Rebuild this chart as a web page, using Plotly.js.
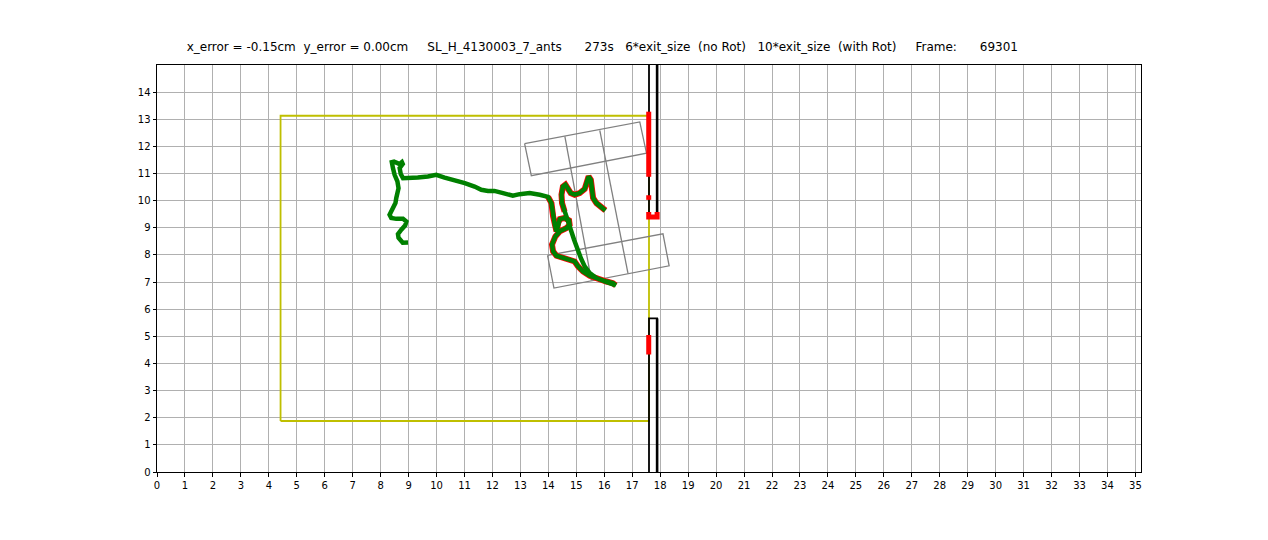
<!DOCTYPE html>
<html>
<head>
<meta charset="utf-8">
<script src="https://cdn.plot.ly/plotly-3.0.1.min.js"></script>
<style>html,body{margin:0;padding:0;background:#fff;}#plot{width:1268px;height:540px;}</style>
</head>
<body>
<div id="plot"></div>
<script>
// ---- Data (values in cm) ----
const titleText = "x_error = -0.15cm\u00a0\u00a0y_error = 0.00cm\u00a0\u00a0\u00a0\u00a0\u00a0SL_H_4130003_7_ants\u00a0\u00a0\u00a0\u00a0\u00a0\u00a0273s\u00a0\u00a0\u00a06*exit_size\u00a0\u00a0(no Rot)\u00a0\u00a0\u00a010*exit_size\u00a0\u00a0(with Rot)\u00a0\u00a0\u00a0\u00a0\u00a0Frame:\u00a0\u00a0\u00a0\u00a0\u00a0\u00a069301";

// arena boundary (yellow)
const arenaX = [4.42, 17.60, 17.60, 4.42, 4.42];
const arenaY = [1.88, 1.88, 13.13, 13.13, 1.88];

// exits (black boxes): left edge, bottom/top, right edge
const exitUpperX = [17.60, 17.60, 17.89, 17.89];
const exitUpperY = [15.5, 9.37, 9.37, 15.5];
const exitLowerX = [17.60, 17.60, 17.89, 17.89];
const exitLowerY = [-0.5, 5.66, 5.66, -0.5];

// rotated object outline (gray): segments separated by null
const objX = [13.15, 17.27, 17.51, 13.39, 13.15, null,
              13.97, 18.10, 18.32, 14.20, 13.97, null,
              14.59, 15.54, null,
              15.84, 16.85];
const objY = [12.10, 12.90, 11.75, 10.92, 12.10, null,
              7.98, 8.78, 7.60, 6.78, 7.98, null,
              12.37, 7.06, null,
              12.59, 7.31];

// red positions at the exits
const exitRedX = [17.59, 17.59, null, 17.59, 17.59, null, 17.59, 17.59, 17.89, 17.89, null, 17.59, 17.59];
const exitRedY = [13.28, 10.88, null, 10.20, 10.03, null, 9.58, 9.40, 9.40, 9.58, null, 5.05, 4.33];

// ant trajectory
const trajX = [8.98, 8.79, 8.64, 8.62, 8.74, 8.88, 8.92, 8.80, 8.56, 8.38,
               8.32, 8.40, 8.50, 8.53, 8.56, 8.62, 8.64, 8.60, 8.50, 8.44,
               8.40, 8.48, 8.60, 8.68, 8.76, 8.79, 8.68, 8.72, 8.80, 8.98,
               9.33, 9.69, 9.99, 10.29, 10.65, 11.01, 11.36, 11.60, 11.84, 12.07,
               12.38, 12.56, 12.73, 12.97, 13.33, 13.69, 13.99, 14.11, 14.17, 14.23,
               14.29, 14.35, 14.41, 14.58, 14.74, 14.76, 14.65, 14.41, 14.25, 14.13,
               14.17, 14.29, 14.52, 14.76, 14.94, 15.06, 15.24, 15.48, 15.78, 16.08,
               16.31, 16.41, 16.02, 15.72, 15.48, 15.30, 15.16, 15.04, 14.92, 14.82,
               14.76, 14.70, 14.58, 14.49, 14.47, 14.52, 14.61, 14.70, 14.80, 14.94,
               15.12, 15.30, 15.40, 15.44, 15.52, 15.54, 15.60, 15.72, 15.90, 16.04];
const trajY = [8.46, 8.45, 8.63, 8.77, 8.93, 9.09, 9.23, 9.33, 9.33, 9.36,
               9.48, 9.63, 9.79, 9.91, 10.10, 10.28, 10.46, 10.71, 10.95, 11.20,
               11.42, 11.44, 11.39, 11.35, 11.42, 11.35, 11.20, 10.98, 10.83, 10.83,
               10.85, 10.89, 10.95, 10.85, 10.77, 10.65, 10.52, 10.40, 10.36, 10.36,
               10.28, 10.22, 10.18, 10.24, 10.28, 10.22, 10.14, 9.91, 9.42, 9.11,
               8.87, 9.17, 9.32, 9.36, 9.27, 9.11, 8.99, 8.87, 8.68, 8.38,
               8.13, 7.97, 7.89, 7.85, 7.76, 7.58, 7.39, 7.23, 7.11, 7.02,
               6.96, 6.88, 7.02, 7.15, 7.33, 7.58, 7.89, 8.19, 8.56, 8.87,
               9.05, 9.30, 9.60, 9.91, 10.22, 10.52, 10.59, 10.46, 10.28, 10.22,
               10.28, 10.43, 10.71, 10.89, 10.77, 10.46, 10.10, 9.91, 9.76, 9.64];
// 1 = point flagged red (drawn under the green path)
const trajRed = [0,0,0,0,0,0,0,0,0,0, 0,0,0,0,0,0,0,0,0,0,
                 0,0,0,0,0,0,0,0,0,0, 0,0,0,0,0,0,0,0,0,0,
                 0,0,0,0,0,0,1,1,1,1, 1,1,1,1,1,1,1,1,1,1,
                 1,1,1,1,1,1,1,1,1,1, 1,1,0,0,0,0,0,0,0,0,
                 0,0,1,1,1,1,1,1,1,1, 1,1,1,1,1,1,1,1,1,1];

const xTicks = Array.from({length: 36}, (_, i) => i);
const yTicks = Array.from({length: 15}, (_, i) => i);

// ---- Build traces ----
const redX = trajX.map((v, i) => trajRed[i] ? v : null);
const redY = trajY.map((v, i) => trajRed[i] ? v : null);

const traces = [
  {x: arenaX, y: arenaY, mode: 'lines', line: {color: '#bfbf00', width: 1.8}, hoverinfo: 'skip'},
  {x: objX, y: objY, mode: 'lines', line: {color: '#808080', width: 1.3}, hoverinfo: 'skip', connectgaps: false},
  {x: exitUpperX, y: exitUpperY, mode: 'lines', line: {color: '#000000', width: 1.8}, hoverinfo: 'skip'},
  {x: exitLowerX, y: exitLowerY, mode: 'lines', line: {color: '#000000', width: 1.8}, hoverinfo: 'skip'},
  {x: [exitUpperX[2], exitUpperX[3], null, exitLowerX[2], exitLowerX[3]],
   y: [exitUpperY[2], exitUpperY[3], null, exitLowerY[2], exitLowerY[3]],
   mode: 'lines', line: {color: '#000000', width: 2.6}, hoverinfo: 'skip', connectgaps: false},
  {x: exitRedX, y: exitRedY, mode: 'lines', line: {color: '#ff0000', width: 5}, hoverinfo: 'skip', connectgaps: false},
  {x: redX, y: redY, mode: 'lines', line: {color: '#ff0000', width: 6}, hoverinfo: 'skip', connectgaps: false},
  {x: trajX, y: trajY, mode: 'lines', line: {color: '#008000', width: 4.5}, hoverinfo: 'skip'}
];

const axisCommon = {
  showgrid: true, gridcolor: '#b0b0b0', gridwidth: 1,
  zeroline: false, showline: true, linecolor: '#000000', linewidth: 1, mirror: true,
  ticks: 'outside', ticklen: 3.5, tickwidth: 1, tickcolor: '#000000',
  tickfont: {family: 'DejaVu Sans', size: 10, color: '#000000'},
  fixedrange: true
};

const layout = {
  width: 1268, height: 540,
  margin: {l: 157, r: 127, t: 65, b: 68, pad: 0},
  paper_bgcolor: '#ffffff', plot_bgcolor: '#ffffff',
  showlegend: false,
  title: {text: titleText, font: {family: 'DejaVu Sans', size: 12, color: '#000000'},
          x: 0.475, xref: 'container', xanchor: 'center', y: 0.913, yref: 'container', yanchor: 'middle'},
  xaxis: Object.assign({}, axisCommon, {range: [0, 35.2], tickvals: xTicks, ticktext: xTicks.map(String)}),
  yaxis: Object.assign({}, axisCommon, {range: [0, 15], tickvals: yTicks, ticktext: yTicks.map(String)})
};

Plotly.newPlot('plot', traces, layout, {displayModeBar: false, staticPlot: true});
</script>
</body>
</html>
